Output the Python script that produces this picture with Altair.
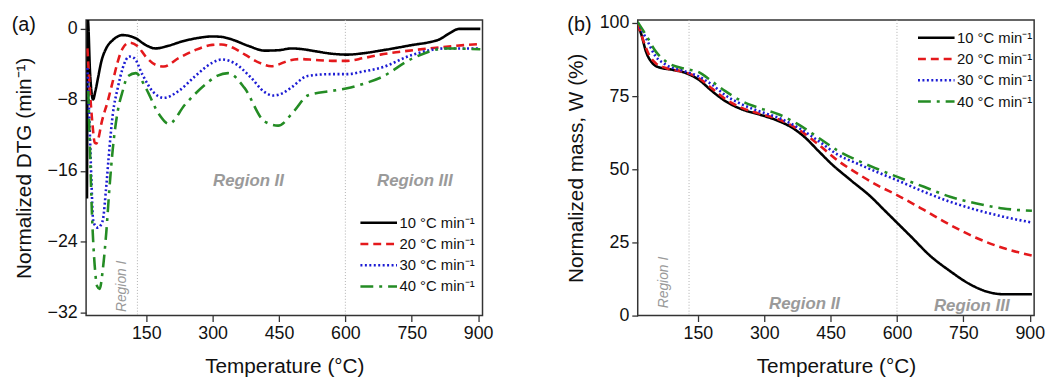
import altair as alt
import pandas as pd

LABELS = ["10 °C min⁻¹", "20 °C min⁻¹", "30 °C min⁻¹", "40 °C min⁻¹"]
COLORS = ["#000000", "#e4191c", "#1c1cd4", "#248c24"]
DASHES = [[1, 0], [8, 5], [2, 2.5], [13, 6, 3, 6]]

# ---- Panel (a): normalized DTG ----
t_dtg_10 = [16, 18, 23, 29.8, 35, 40.9, 48.4, 59.5, 74.4, 96.7, 126.5, 148.8, 171, 200, 232, 270, 299, 320, 344,
            380, 418, 450, 478, 505, 530, 570, 604, 640, 679, 720, 753, 790, 812, 835, 857, 880, 905]
dtg_10 = [-19.1, 1.0, -5.0, -7.95, -7.0, -5.54, -3.68, -2.19, -1.26, -0.7, -1.07, -1.82, -2.2, -1.9, -1.4, -1.0,
          -0.85, -0.9, -1.2, -1.9, -2.45, -2.4, -2.2, -2.3, -2.5, -2.8, -2.9, -2.75, -2.45, -2.1, -1.8, -1.5, -1.2,
          -0.5, 0.0, 0.0, 0.0]

t_dtg_20 = [17, 22, 28, 33.5, 37.2, 42, 48.4, 63.2, 74.4, 85.6, 96.7, 111.6, 130, 148.8, 171, 189.7, 223, 260, 299,
            320, 345, 373, 405, 433, 450, 470, 500, 530, 570, 604, 640, 679, 720, 790, 850, 905]
dtg_20 = [-2.2, -6.5, -10.5, -12.8, -12.9, -12.3, -10.7, -8.1, -5.9, -3.68, -2.19, -1.56, -1.93, -3.12, -4.05, -4.24,
          -3.3, -2.4, -1.8, -1.75, -2.1, -2.9, -3.8, -4.2, -4.0, -3.6, -3.4, -3.5, -3.6, -3.6, -3.3, -2.9, -2.6, -2.2,
          -1.9, -1.7]

t_dtg_30 = [17, 22, 26, 29.8, 35, 40.9, 46, 52, 59.5, 67, 74.4, 85.6, 96.7, 111.6, 122.8, 141.4, 163.7, 189.7, 223,
            260, 297.6, 320, 349.7, 387, 416.7, 437, 460, 478, 515, 567, 604, 640, 679, 753, 827, 905]
dtg_30 = [-4.4, -11, -17, -21.5, -22.2, -22.4, -22.2, -21.5, -17.8, -13.3, -9.6, -6.65, -4.42, -3.12, -3.3, -5.16,
          -7.0, -7.77, -7.0, -5.35, -3.87, -3.45, -3.87, -5.5, -7.1, -7.5, -7.2, -6.6, -5.3, -5.1, -5.1, -4.8, -4.4,
          -2.9, -2.2, -2.2]

t_dtg_40 = [19, 23, 27, 33.5, 39, 44.6, 52, 59.5, 67, 74.4, 85.6, 96.7, 107.9, 126.5, 148.8, 178.6, 200.9, 238,
            282.7, 310, 334.8, 372, 416.7, 448, 485, 515, 567, 604, 640, 679, 753, 827, 905]
dtg_40 = [-7.0, -14, -20.5, -26.7, -29, -29.3, -27, -23, -17.8, -13.5, -9.25, -7.0, -5.35, -4.98, -6.65, -9.6, -10.7,
          -8.5, -6.3, -5.3, -4.98, -6.65, -10.4, -10.9, -9.2, -7.5, -7.0, -6.7, -6.2, -5.5, -3.3, -2.2, -2.3]

# ---- Panel (b): normalized mass ----
t_w_10 = [14, 21.5, 32.7, 47.7, 62.6, 92.5, 122.4, 152, 182, 212, 249, 287, 332, 362, 392, 421.5, 451.5, 496, 541,
          571, 601, 631, 676, 720, 765, 810, 840, 905]
w_10 = [99.2, 96.4, 90.2, 86.2, 84.8, 84.0, 82.9, 80.6, 76.7, 73.3, 70.5, 68.8, 66.5, 64.3, 60.9, 56.4, 51.9, 46.2,
        40.6, 36.1, 31.6, 27.1, 20.3, 15.2, 10.7, 7.9, 7.3, 7.3]

t_w_20 = [14, 25, 40, 55, 78, 122, 152, 182, 212, 249, 287, 332, 376, 421.5, 466, 511, 556, 601, 661, 720, 780, 840,
          905]
w_20 = [99.8, 94.7, 89.0, 86.2, 84.6, 83.1, 81.2, 77.6, 74.0, 71.0, 69.1, 67.1, 63.7, 58.6, 53.0, 48.5, 44.5, 41.1,
        36.1, 31.0, 26.5, 23.1, 20.5]

t_w_30 = [14, 33, 55, 78, 122, 152, 182, 212, 249, 287, 332, 376, 421.5, 466, 511, 556, 601, 661, 720, 780, 840, 905]
w_30 = [100.0, 94.7, 88.5, 85.7, 83.4, 81.7, 78.9, 75.3, 72.2, 69.9, 67.6, 64.3, 59.8, 55.0, 51.9, 49.0, 46.2, 42.3,
        38.9, 36.1, 33.8, 31.8]

t_w_40 = [14, 33, 55, 78, 122, 152, 182, 212, 249, 287, 332, 376, 421.5, 466, 511, 556, 601, 661, 720, 780, 840, 905]
w_40 = [100.3, 95.8, 90.2, 86.8, 84.3, 83.2, 80.0, 76.7, 73.3, 71.0, 68.8, 65.4, 60.9, 56.4, 53.0, 50.1, 47.4, 44.0,
        40.6, 38.3, 36.6, 35.8]

# region boundaries and labels
region_bounds = [130, 600]
reg_a_text = ["Region II", "Region III"]
reg_a_t = [381, 757]
reg_a_y = [-17.1, -17.1]
reg_a_rot_t = [96]
reg_a_rot_y = [-29.0]
reg_b_text = ["Region II", "Region III"]
reg_b_t = [391, 769]
reg_b_y = [4.0, 3.2]
reg_b_rot_t = [74]
reg_b_rot_y = [11.3]

x_ticks = [150, 300, 450, 600, 750, 900]
FONT = "Liberation Sans"


def long_df(ts, vs):
    rows = []
    for lab, t, v in zip(LABELS, ts, vs):
        for ti, vi in zip(t, v):
            rows.append({"T": ti, "v": vi, "rate": lab})
    return pd.DataFrame(rows)


dtg_df = long_df([t_dtg_10, t_dtg_20, t_dtg_30, t_dtg_40], [dtg_10, dtg_20, dtg_30, dtg_40])
w_df = long_df([t_w_10, t_w_20, t_w_30, t_w_40], [w_10, w_20, w_30, w_40])

xdom = [14, 910]


def panel(df, ydom, yticks, ytitle, leg_x, leg_y, reg_t, reg_y, reg_text, rot_t, rot_y, tag, tag_x):
    xs = alt.Scale(domain=xdom, nice=False, zero=False)
    ys = alt.Scale(domain=ydom, nice=False, zero=False)
    x = alt.X("T:Q", scale=xs, axis=alt.Axis(values=x_ticks, title="Temperature (°C)"))
    y = alt.Y("v:Q", scale=ys, axis=alt.Axis(values=yticks, title=ytitle))
    legend = alt.Legend(title=None, orient="none", legendX=leg_x, legendY=leg_y, symbolType="stroke",
                        symbolSize=1369, symbolStrokeWidth=2.6, labelFontSize=15, labelFont=FONT,
                        clipHeight=18, rowPadding=3.5, padding=0, labelOffset=1, labelColor="#111")
    lines = alt.Chart(df).mark_line(strokeWidth=2.6, interpolate="monotone", clip=True).encode(
        x=x, y=y,
        color=alt.Color("rate:N", scale=alt.Scale(domain=LABELS, range=COLORS), legend=legend),
        strokeDash=alt.StrokeDash("rate:N", scale=alt.Scale(domain=LABELS, range=DASHES), legend=legend),
    )
    rules = alt.Chart(pd.DataFrame({"T": region_bounds})).mark_rule(
        color="#b0b0b0", strokeWidth=1, strokeDash=[1, 2]).encode(x=alt.X("T:Q", scale=xs))
    reg = alt.Chart(pd.DataFrame({"T": reg_t, "v": reg_y, "txt": reg_text})).mark_text(
        font=FONT, fontSize=17, fontStyle="italic", fontWeight="bold", color="#9a9a9a").encode(
        x=alt.X("T:Q", scale=xs), y=alt.Y("v:Q", scale=ys), text="txt:N")
    rot = alt.Chart(pd.DataFrame({"T": rot_t, "v": rot_y, "txt": ["Region I"]})).mark_text(
        font=FONT, fontSize=14, fontStyle="italic", angle=270, color="#9a9a9a").encode(
        x=alt.X("T:Q", scale=xs), y=alt.Y("v:Q", scale=ys), text="txt:N")
    tag_m = alt.Chart(pd.DataFrame({"txt": [tag]})).mark_text(
        font=FONT, fontSize=20, color="#111", align="center", baseline="middle").encode(
        x=alt.value(tag_x), y=alt.value(5), text="txt:N")
    return alt.layer(rules, lines, reg, rot, tag_m).properties(width=401, height=299)


pa = panel(dtg_df, [-32.3, 1.0], [0, -8, -16, -24, -32], "Normalized DTG (min⁻¹)", 276, 196,
           reg_a_t, reg_a_y, reg_a_text, reg_a_rot_t, reg_a_rot_y, "(a)", -63)
pb = panel(w_df, [0, 101], [0, 25, 50, 75, 100], "Normalized mass, W (%)", 282, 9,
           reg_b_t, reg_b_y, reg_b_text, reg_b_rot_t, reg_b_rot_y, "(b)", -59)

chart = alt.hconcat(pa, pb, spacing=71).resolve_scale(
    color="independent", strokeDash="independent").resolve_legend(
    color="independent", strokeDash="independent").properties(
    padding={"left": 3, "top": 3, "right": 0, "bottom": 0}
).configure_view(stroke="#333333", strokeWidth=1.5).configure_axis(
    labelFont=FONT, titleFont=FONT, labelFontSize=18, titleFontSize=21, labelColor="#111", titleColor="#111",
    titleFontWeight="normal", grid=False, domain=False, tickSize=6, tickColor="#333333", tickWidth=1.3,
    labelPadding=3, titlePadding=14
).configure_axisY(titlePadding=13, titleFontSize=21)

chart.save("out.html", embed_options={"renderer": "svg", "actions": False})
